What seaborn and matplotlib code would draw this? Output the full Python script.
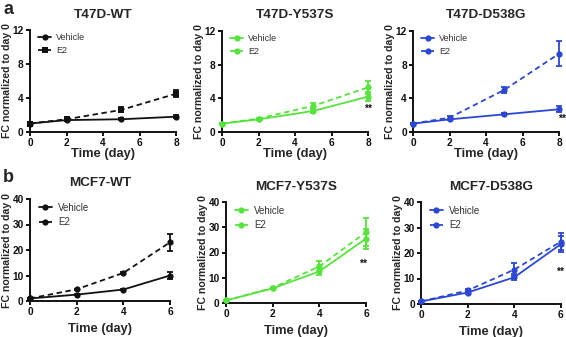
import numpy as np
import pandas as pd
import matplotlib
matplotlib.use('Agg')
import matplotlib.pyplot as plt
import seaborn as sns

# data
t47d_days = [0, 2, 5, 8]
mcf7_days = [0, 2, 4, 6]

t47d_wt_veh = [1.0, 1.4, 1.5, 1.8]
t47d_wt_veh_err = [0.05, 0.1, 0.1, 0.15]
t47d_wt_e2 = [1.0, 1.5, 2.6, 4.5]
t47d_wt_e2_err = [0.05, 0.1, 0.3, 0.4]

t47d_y537s_veh = [1.0, 1.5, 2.5, 4.2]
t47d_y537s_veh_err = [0.05, 0.1, 0.3, 0.5]
t47d_y537s_e2 = [1.0, 1.6, 3.1, 5.3]
t47d_y537s_e2_err = [0.05, 0.1, 0.4, 0.8]

t47d_d538g_veh = [1.0, 1.5, 2.1, 2.7]
t47d_d538g_veh_err = [0.05, 0.1, 0.1, 0.35]
t47d_d538g_e2 = [1.0, 1.7, 5.0, 9.3]
t47d_d538g_e2_err = [0.05, 0.15, 0.4, 1.5]

mcf7_wt_veh = [1.0, 2.5, 4.5, 10.0]
mcf7_wt_veh_err = [0.1, 0.3, 0.3, 1.3]
mcf7_wt_e2 = [1.0, 4.6, 11.0, 23.0]
mcf7_wt_e2_err = [0.1, 0.3, 0.4, 3.3]

mcf7_y537s_veh = [1.0, 5.8, 12.5, 25.5]
mcf7_y537s_veh_err = [0.1, 0.4, 1.5, 4.0]
mcf7_y537s_e2 = [1.0, 6.0, 14.5, 28.0]
mcf7_y537s_e2_err = [0.1, 0.4, 2.0, 5.5]

mcf7_d538g_veh = [1.0, 4.5, 10.5, 23.5]
mcf7_d538g_veh_err = [0.1, 0.4, 1.2, 3.0]
mcf7_d538g_e2 = [1.0, 5.3, 13.5, 24.5]
mcf7_d538g_e2_err = [0.1, 0.4, 2.5, 3.5]

BLACK = '#111111'
GREEN = '#55e43c'
BLUE = '#2b47d4'

sns.set_style('ticks')
plt.rcParams['font.family'] = ['Liberation Sans', 'DejaVu Sans']

W, H = 566, 337
fig = plt.figure(figsize=(W / 100, H / 100), dpi=100)


def box(l, r, t, b):
    return [l / W, (H - b) / H, (r - l) / W, (b - t) / H]


panels = [
    # title, days, veh, veh_err, e2, e2_err, color, e2 marker, ylim, yticks, stars, rect, labelpad, legend size
    ('T47D-WT', t47d_days, t47d_wt_veh, t47d_wt_veh_err, t47d_wt_e2, t47d_wt_e2_err,
     BLACK, 's', 12, [0, 4, 8, 12], None, box(30, 176, 30, 132), 0, 6.5),
    ('T47D-Y537S', t47d_days, t47d_y537s_veh, t47d_y537s_veh_err, t47d_y537s_e2, t47d_y537s_e2_err,
     GREEN, 'o', 12, [0, 4, 8, 12], (8, 2.7), box(222, 368, 31, 132), 0, 6.5),
    ('T47D-D538G', t47d_days, t47d_d538g_veh, t47d_d538g_veh_err, t47d_d538g_e2, t47d_d538g_e2_err,
     BLUE, 'o', 12, [0, 4, 8, 12], (8.17, 1.6), box(413, 559, 31, 132), 0, 6.5),
    ('MCF7-WT', mcf7_days, mcf7_wt_veh, mcf7_wt_veh_err, mcf7_wt_e2, mcf7_wt_e2_err,
     BLACK, 'o', 40, [0, 10, 20, 30, 40], None, box(30, 170, 199, 301), 4, 7),
    ('MCF7-Y537S', mcf7_days, mcf7_y537s_veh, mcf7_y537s_veh_err, mcf7_y537s_e2, mcf7_y537s_e2_err,
     GREEN, 'o', 40, [0, 10, 20, 30, 40], (5.87, 15.4), box(226, 366, 202, 303), 4, 7),
    ('MCF7-D538G', mcf7_days, mcf7_d538g_veh, mcf7_d538g_veh_err, mcf7_d538g_e2, mcf7_d538g_e2_err,
     BLUE, 'o', 40, [0, 10, 20, 30, 40], (5.95, 12.5), box(421, 561, 202, 304), 4, 7),
]

for (title, days, veh, veh_err, e2, e2_err, color, mk, ymax, yticks,
     stars, rect, lpad, legsize) in panels:
    ax = fig.add_axes(rect)
    df = pd.DataFrame({
        'day': days * 2,
        'fc': veh + e2,
        'group': ['Vehicle'] * len(days) + ['E2'] * len(days),
    })
    sns.lineplot(data=df, x='day', y='fc', style='group', style_order=['Vehicle', 'E2'],
                 dashes={'Vehicle': '', 'E2': (3, 2)},
                 markers={'Vehicle': 'o', 'E2': mk},
                 color=color, lw=1.3, markersize=4.5, markeredgewidth=0,
                 ax=ax, clip_on=False, zorder=3)
    ax.errorbar(days, veh, yerr=veh_err, fmt='none', ecolor=color, elinewidth=1.3,
                capsize=2.2, capthick=1.3, clip_on=False, zorder=3)
    ax.errorbar(days, e2, yerr=e2_err, fmt='none', ecolor=color, elinewidth=1.3,
                capsize=2.2, capthick=1.3, clip_on=False, zorder=3)

    ax.set_xlim(0, days[-1])
    ax.set_ylim(0, ymax)
    ax.set_xticks(days if days[-1] == 6 else [0, 2, 4, 6, 8])
    ax.set_yticks(yticks)
    for s in ['top', 'right']:
        ax.spines[s].set_visible(False)
    for s in ['left', 'bottom']:
        ax.spines[s].set_linewidth(1.4)
        ax.spines[s].set_color('#111111')
    ax.tick_params(width=1.4, length=3, labelsize=7.3, pad=1.5, colors='#111111')
    for lab in ax.get_xticklabels() + ax.get_yticklabels():
        lab.set_fontweight('bold')
    ax.set_title(title, fontsize=9.7, fontweight='bold', pad=9)
    ax.set_xlabel('Time (day)', fontsize=9.3, fontweight='bold', labelpad=lpad)
    ax.set_ylabel('FC normalized to day 0', fontsize=7.6, fontweight='bold', labelpad=0.5)
    if stars is not None:
        ax.text(stars[0], stars[1], '**', fontsize=7.5, fontweight='bold',
                ha='center', va='center', color='#111111')
    leg = ax.legend(loc='upper left', frameon=False, fontsize=legsize, handlelength=1.4,
                    handletextpad=0.6, borderaxespad=0.2, labelspacing=0.45,
                    bbox_to_anchor=(0.02, 1.02))
    for h in leg.legend_handles:
        h.set_color(color)
    for txt in leg.get_texts():
        txt.set_color('#333333')

fig.text(3 / W, 1 - 9 / H, 'a', fontsize=13, fontweight='bold', va='center')
fig.text(3 / W, 1 - 177 / H, 'b', fontsize=13, fontweight='bold', va='center')

fig.savefig('out.png', dpi=100)
